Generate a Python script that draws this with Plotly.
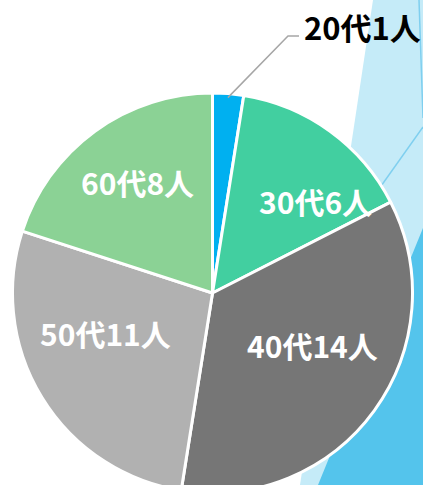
import math
import plotly.graph_objects as go

# ---- data ----
categories = ["20代", "30代", "40代", "50代", "60代"]
counts = [1, 6, 14, 11, 8]
unit = "人"

colors = ["#00B0F0", "#42CFA0", "#767676", "#B1B1B1", "#8BD295"]

W, H = 423, 500          # page taller than window so the pie is clipped at the bottom
CX, CY, R = 212.5, 293.0, 200.0
FONT = "Noto Sans CJK JP"


def px(x):
    return x / W


def py(y):
    return 1 - y / H


labels_txt = [f"{c}{n}{unit}" for c, n in zip(categories, counts)]

fig = go.Figure(go.Pie(
    labels=categories,
    values=counts,
    sort=False,
    direction="clockwise",
    rotation=0,
    marker=dict(colors=colors, line=dict(color="white", width=3)),
    textinfo="none",
    hoverinfo="label+value",
    showlegend=False,
    domain=dict(x=[px(CX - R), px(CX + R)], y=[py(CY + R), py(CY - R)]),
))

# background decoration
shapes = [
    dict(type="path", xref="paper", yref="paper", layer="below",
         path=f"M {px(373)} {py(0)} L {px(423)} {py(0)} L {px(423)} {py(485)} L {px(300)} {py(485)} Z",
         fillcolor="#C5EBF8", line=dict(width=0)),
    dict(type="path", xref="paper", yref="paper", layer="below",
         path=f"M {px(423)} {py(228)} L {px(423)} {py(485)} L {px(318)} {py(485)} Z",
         fillcolor="#54C4EC", line=dict(width=0)),
    dict(type="line", xref="paper", yref="paper", layer="below",
         x0=px(423), y0=py(127), x1=px(330), y1=py(258),
         line=dict(color="#7FCFEF", width=1.5)),
    dict(type="line", xref="paper", yref="paper", layer="below",
         x0=px(419), y0=py(0), x1=px(423), y1=py(118),
         line=dict(color="#7FCFEF", width=1.5)),
]

# leader line for the small slice, anchored at the slice's mid-angle on the rim
frac_mid = (counts[0] / 2) / sum(counts)
ang = 2 * math.pi * frac_mid
ax0 = CX + (R - 4) * math.sin(ang)
ay0 = CY - (R - 4) * math.cos(ang)
shapes.append(dict(type="path", xref="paper", yref="paper",
                   path=f"M {px(ax0)} {py(ay0)} L {px(288)} {py(36)} L {px(299)} {py(36)}",
                   line=dict(color="#A6A6A6", width=1.5)))

annotations = [dict(
    x=px(302), y=py(26), xref="paper", yref="paper", xanchor="left", yanchor="middle",
    text=f"<b>{labels_txt[0]}</b>", showarrow=False,
    font=dict(size=31, color="black", family=FONT),
)]

# inside label positions (pixels) for slices 2..5
label_pos = [(315, 201), (312, 345), (105, 333), (137, 182)]
for txt, (lx, ly) in zip(labels_txt[1:], label_pos):
    annotations.append(dict(
        x=px(lx), y=py(ly), xref="paper", yref="paper", xanchor="center", yanchor="middle",
        text=f"<b>{txt}</b>", showarrow=False,
        font=dict(size=30, color="white", family=FONT),
    ))

fig.update_layout(
    width=W, height=H,
    margin=dict(l=0, r=0, t=0, b=0),
    paper_bgcolor="white",
    plot_bgcolor="white",
    shapes=shapes,
    annotations=annotations,
    font=dict(family=FONT),
)

fig.write_html("out.html", config={"displayModeBar": False},
               post_script="document.body.style.margin='0';document.body.style.overflow='hidden';")
